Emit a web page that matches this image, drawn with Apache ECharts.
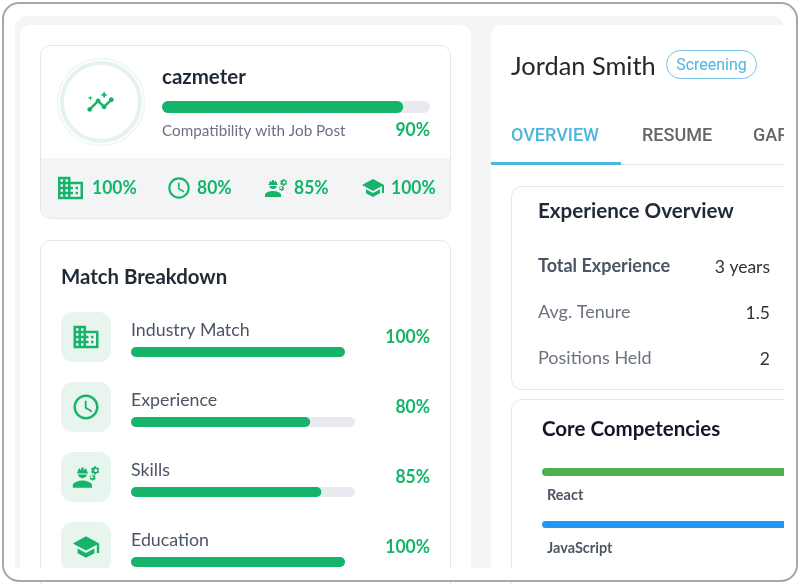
<!DOCTYPE html>
<html>
<head>
<meta charset="utf-8">
<style>html,body{margin:0;padding:0;background:#fff}#c{width:800px;height:584px}</style>
<script src="https://cdn.jsdelivr.net/npm/echarts@6/dist/echarts.min.js"></script>
</head>
<body>
<div id="c"></div>
<script>
// ---------- data ----------
const overallTitle = 'cazmeter';
const overallCaption = 'Compatibility with Job Post';
const overallScore = 90;
const breakdownTitle = 'Match Breakdown';
const breakdownLabels = ['Industry Match', 'Experience', 'Skills', 'Education'];
const breakdownValues = [100, 80, 85, 100];
const candidateName = 'Jordan Smith';
const candidateStatus = 'Screening';
const tabLabels = ['OVERVIEW', 'RESUME', 'GAP ANALYSIS'];
const experienceTitle = 'Experience Overview';
const experienceLabels = ['Total Experience', 'Avg. Tenure', 'Positions Held'];
const experienceValues = ['3 years', '1.5', '2'];
const competencyTitle = 'Core Competencies';
const competencyLabels = ['React', 'JavaScript'];
const competencyValues = [100, 100];

// ---------- style ----------
const GREEN = '#15b46a', TILE = '#e8f5ee', TRACK = '#e8eaef', BLUE = '#4db6dc', LINE = '#e4e6ea';
const LATO = 'Lato', ROBOTO = 'Roboto';
const ICONS = {
  domain: 'M12 7V3H2v18h20V7H12zM6 19H4v-2h2v2zm0-4H4v-2h2v2zm0-4H4V9h2v2zm0-4H4V5h2v2zm4 12H8v-2h2v2zm0-4H8v-2h2v2zm0-4H8V9h2v2zm0-4H8V5h2v2zm10 12h-8v-2h2v-2h-2v-2h2v-2h-2V9h8v10zm-2-8h-2v2h2v-2zm0 4h-2v2h2v-2z',
  clock: 'M11.99 2C6.47 2 2 6.48 2 12s4.47 10 9.99 10C17.52 22 22 17.52 22 12S17.52 2 11.99 2zM12 20c-4.42 0-8-3.58-8-8s3.58-8 8-8 8 3.58 8 8-3.58 8-8 8zm.5-13H11v6l5.25 3.15.75-1.23-4.5-2.67z',
  worker: 'M9 15c-2.67 0-8 1.34-8 4v2h16v-2c0-2.66-5.33-4-8-4zM4.74 9h8.53c.27 0 .49-.22.49-.49v-.02c0-.27-.22-.49-.49-.49H13c0-1.48-.81-2.75-2-3.45v.95c0 .28-.22.5-.5.5s-.5-.22-.5-.5V4.14C9.68 4.06 9.35 4 9 4s-.68.06-1 .14V5.5c0 .28-.22.5-.5.5S7 5.78 7 5.5v-.95C5.81 5.25 5 6.52 5 8h-.26c-.27 0-.49.22-.49.49v.03c0 .26.22.48.49.48zM9 13c1.86 0 3.41-1.28 3.86-3H5.14c.45 1.72 2 3 3.86 3zM22.1 6.84c.01-.11.02-.22.02-.34 0-.12-.01-.23-.03-.34l.74-.58c.07-.05.08-.15.04-.22l-.7-1.21c-.04-.08-.14-.1-.21-.08l-.86.35c-.18-.14-.38-.25-.59-.34l-.13-.93c-.01-.09-.09-.15-.17-.15h-1.4c-.09 0-.16.06-.17.15l-.13.93c-.21.09-.41.21-.59.34l-.87-.35c-.08-.03-.17 0-.21.08l-.7 1.21c-.04.08-.03.17.04.22l.74.58c-.02.11-.03.23-.03.34 0 .11.01.23.03.34l-.74.58c-.07.05-.08.15-.04.22l.7 1.21c.04.08.14.1.21.08l.87-.35c.18.14.38.25.59.34l.13.93c.01.09.08.15.17.15h1.4c.09 0 .16-.06.17-.15l.13-.93c.21-.09.41-.21.59-.34l.86.35c.08.03.17 0 .21-.08l.7-1.21c.04-.08.03-.17-.04-.22l-.73-.58zM20 7.75c-.69 0-1.25-.56-1.25-1.25s.56-1.25 1.25-1.25 1.25.56 1.25 1.25-.56 1.25-1.25 1.25zM19.92 11.68l-.5-.87c-.03-.06-.1-.08-.15-.06l-.62.25c-.13-.1-.27-.18-.42-.24l-.09-.66c-.01-.06-.06-.11-.12-.11h-1c-.06 0-.11.04-.12.11l-.09.66c-.15.06-.29.15-.42.24l-.62-.25c-.06-.02-.12 0-.15.06l-.5.87c-.03.06-.02.12.03.16l.53.41c-.01.08-.02.16-.02.24 0 .08.01.17.02.24l-.53.41c-.05.04-.06.11-.03.16l.5.87c.03.06.1.08.15.06l.62-.25c.13.1.27.18.42.24l.09.66c.01.07.06.11.12.11h1c.06 0 .11-.04.12-.11l.09-.66c.15-.06.29-.15.42-.24l.62.25c.06.02.12 0 .15-.06l.5-.87c.03-.06.02-.12-.03-.16l-.52-.41c.01-.08.02-.16.02-.24 0-.08-.01-.17-.02-.24l.53-.41c.05-.04.06-.11.03-.16zM17 13c-.55 0-1-.45-1-1s.45-1 1-1 1 .45 1 1-.45 1-1 1z',
  school: 'M5 13.18v4L12 21l7-3.82v-4L12 17l-7-3.82zM12 3L1 9l11 6 9-4.91V17h2V9L12 3z',
  insights: 'M21 8c-1.45 0-2.26 1.44-1.93 2.51l-3.55 3.56c-.3-.09-.74-.09-1.04 0l-2.55-2.55C12.27 10.45 11.46 9 10 9c-1.45 0-2.27 1.44-1.93 2.52l-4.56 4.55C2.44 15.74 1 16.55 1 18c0 1.1.9 2 2 2 1.45 0 2.26-1.44 1.93-2.51l4.55-4.56c.3.09.74.09 1.04 0l2.55 2.55C12.73 16.55 13.54 18 15 18c1.45 0 2.27-1.44 1.93-2.52l3.56-3.55c1.07.33 2.51-.48 2.51-1.93 0-1.1-.9-2-2-2zM15 9l.94-2.07L18 6l-2.06-.93L15 3l-.92 2.07L12 6l2.08.93zM3.5 11L4 9l2-.5L4 8l-.5-2L3 8l-2 .5L3 9z'
};
const ICON_SIZE = { domain:[20,18], clock:[20,20], worker:[22,18], school:[22,18], insights:[22,17] };

// ---------- helpers ----------
const grid = [], xAxis = [], yAxis = [], series = [], gfx = [];
function bar(left, top, width, height, value, color, track, name) {
  const i = grid.length;
  grid.push({ left, top, width, height, containLabel: false });
  xAxis.push({ gridIndex: i, type: 'value', min: 0, max: 100, show: false });
  yAxis.push({ gridIndex: i, type: 'category', data: [name], show: false });
  series.push({
    type: 'bar', name, xAxisIndex: i, yAxisIndex: i, data: [value], barWidth: height, silent: true, animation: false,
    itemStyle: { color, borderRadius: height / 2 },
    showBackground: !!track,
    backgroundStyle: { color: track || 'transparent', borderRadius: height / 2 }
  });
}
function text(str, x, y, size, weight, color, align, family, squeeze) {
  gfx.push({ type: 'text', x, y, z: 50, silent: true, scaleX: squeeze || 1,
    style: { text: str, fill: color, font: `${weight} ${size}px ${family || LATO}`, textAlign: align || 'left', textVerticalAlign: 'middle' } });
}
function rect(x, y, w, h, r, fill, stroke, z, lw) {
  gfx.push({ type: 'rect', z: z || 1, silent: true, shape: { x, y, width: w, height: h, r },
    style: { fill: fill || 'none', stroke: stroke || 'none', lineWidth: lw || 1 } });
}
const iconMarks = [];
function icon(name, cx, cy, scale) {
  const s = ICON_SIZE[name];
  iconMarks.push({ name, x: cx - s[0] * scale / 2, y: cy - s[1] * scale / 2, w: s[0] * scale, h: s[1] * scale });
}

// ---------- page surfaces ----------
rect(15, 16, 769, 560, 12, '#f5f5f6', null, 0);
rect(20, 25, 451, 560, 10, '#ffffff', null, 0);
rect(491, 25, 320, 560, 10, '#ffffff', null, 0);

// cazmeter card
rect(40.5, 45.5, 410, 173, 10, '#ffffff', LINE, 1);
rect(41, 158, 409, 60, [0, 0, 10, 10], '#f3f4f6', null, 1);
gfx.push({ type: 'circle', z: 2, silent: true, shape: { cx: 101, cy: 102, r: 43.5 }, style: { fill: 'none', stroke: '#eef7f2', lineWidth: 1.5 } });
gfx.push({ type: 'circle', z: 2, silent: true, shape: { cx: 101, cy: 102, r: 39 }, style: { fill: '#fff', stroke: '#e6f3ec', lineWidth: 4 } });
icon('insights', 100.5, 101.5, 1.2);
text(overallTitle, 162, 77.5, 20.5, 700, '#1f2937');
bar(162, 101, 268, 12, overallScore, GREEN, TRACK, overallTitle);
text(overallCaption, 162, 131.5, 15.25, 400, '#6b7280');
text(overallScore + '%', 430, 130, 19, 700, GREEN, 'right', LATO, 0.92);

// summary strip
const stripIcons = [['domain', 70.5, 1.25], ['clock', 179, 1.07], ['worker', 276, 1], ['school', 373, 1]];
const stripTextX = [92, 197, 294, 391];
breakdownValues.forEach((v, i) => {
  icon(stripIcons[i][0], stripIcons[i][1], 188, stripIcons[i][2]);
  text(v + '%', stripTextX[i], 187.5, 19, 700, GREEN, 'left', LATO, 0.92);
});

// match breakdown card
rect(40.5, 240.5, 410, 400, 10, '#ffffff', LINE, 1);
text(breakdownTitle, 61, 277.5, 20.4, 700, '#1f2937');
const tileIcons = [['domain', 1.25], ['clock', 1.25], ['worker', 1.2], ['school', 1.2]];
breakdownLabels.forEach((label, i) => {
  const y = 70 * i;
  rect(61, 312 + y, 50, 50, 12, TILE, null, 1);
  icon(tileIcons[i][0], 86, 337 + y, tileIcons[i][1]);
  text(label, 131, 330 + y, 17.8, 400, '#4b5563');
  const full = breakdownValues[i] === 100;
  bar(131, 347 + y, full ? 214 : 224, 10, breakdownValues[i], GREEN, TRACK, label);
  text(breakdownValues[i] + '%', 430, 336.5 + y, 19, 700, GREEN, 'right', LATO, 0.92);
});

// candidate header
text(candidateName, 511, 67, 25.4, 400, '#262626');
rect(666.5, 50.5, 90, 28, 14, '#fff', '#76c5e3', 1);
text(candidateStatus, 711.5, 65.5, 16, 400, BLUE, 'center', ROBOTO);

// tabs
gfx.push({ type: 'rect', z: 1, silent: true, shape: { x: 491, y: 164, width: 320, height: 1 }, style: { fill: LINE } });
rect(491, 162, 130, 3, 0, BLUE, null, 2);
const tabX = [511, 642, 753];
tabLabels.forEach((t, i) => text(t, tabX[i], 136.5, 18, 500, i === 0 ? BLUE : '#666666', 'left', ROBOTO));

// experience card
rect(511.5, 186.5, 320, 203, 10, '#ffffff', LINE, 1);
text(experienceTitle, 538, 211.5, 20.6, 700, '#1f2937');
experienceLabels.forEach((label, i) => {
  const y = [266, 312, 358][i];
  text(label, 538, y, 18, i === 0 ? 700 : 400, i === 0 ? '#4b5563' : '#6b7280');
  text(experienceValues[i], 770, y + 1, 17.5, 400, '#333333', 'right');
});

// competencies card
rect(511.5, 399.5, 320, 300, 10, '#ffffff', LINE, 1);
text(competencyTitle, 542, 429.5, 20.5, 700, '#111827');
const competencyColors = ['#4caf50', '#2196f3'];
competencyLabels.forEach((label, i) => {
  bar(542, [468, 521][i], 250, [8, 7][i], competencyValues[i], competencyColors[i], null, label);
  text(label, 547, [495, 548][i], 14.5, 700, '#4b5563');
});

// clipping masks and outer frame
rect(784, 10, 16, 570, 0, '#ffffff', null, 100);
rect(4, 568, 792, 14, 0, '#ffffff', null, 100);
rect(3, 3, 794, 578, 16, null, '#a8a8a8', 101, 2);

// icons drawn by a custom series
series.push({
  type: 'custom', coordinateSystem: 'none', silent: true, animation: false, z: 3,
  data: iconMarks.map((_, i) => i),
  renderItem: (p, api) => {
    const m = iconMarks[api.value(0)];
    return { type: 'path', shape: { pathData: ICONS[m.name], x: m.x, y: m.y, width: m.w, height: m.h, layout: 'cover' }, style: { fill: GREEN } };
  }
});

const chart = echarts.init(document.getElementById('c'), null, { renderer: 'canvas', width: 800, height: 584 });
chart.setOption({ animation: false, backgroundColor: '#ffffff', tooltip: { show: false }, grid, xAxis, yAxis, series, graphic: { elements: gfx } });
</script>
</body>
</html>
